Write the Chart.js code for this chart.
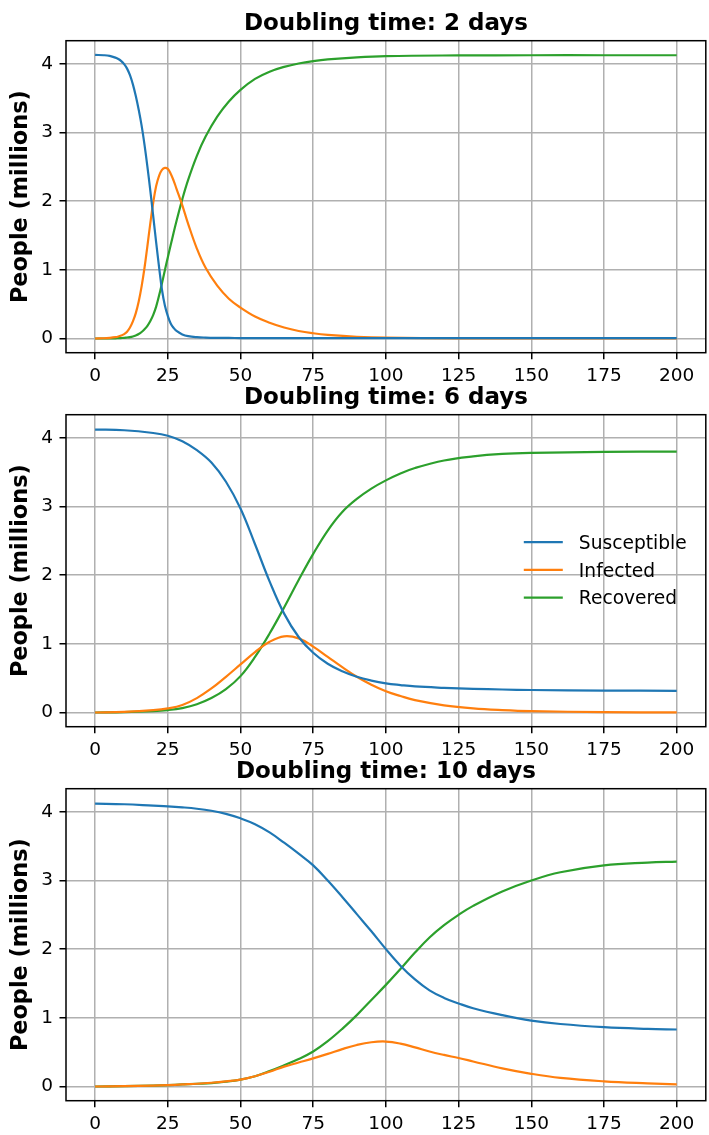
<!DOCTYPE html>
<html lang="en">
<head>
<meta charset="UTF-8">
<title>Doubling time</title>
<script src="https://cdn.jsdelivr.net/npm/chart.js@4.4.0/dist/chart.umd.min.js"></script>
<style>
  body { margin: 0; background: #fff; }
  canvas { position: absolute; left: 0; }
</style>
</head>
<body>
<canvas id="c1" width="709" height="400" style="top:0px"></canvas>
<canvas id="c2" width="709" height="400" style="top:374px"></canvas>
<canvas id="c3" width="709" height="387" style="top:748px"></canvas>

<script>
// noms des courbes et titres
const seriesNames = ['Susceptible', 'Infected', 'Recovered'];
const colors = ['#1f77b4', '#ff7f0e', '#2ca02c'];
const titles = ['Doubling time: 2 days', 'Doubling time: 6 days', 'Doubling time: 10 days'];
const yLabel = 'People (millions)';

// doubling time 2 days
const days1 = [0, 3, 5, 7, 8, 9, 10, 11, 12, 13, 14, 15, 16, 17, 18, 19, 20, 21, 22, 23, 24, 25, 26, 27, 28, 30, 32, 35, 38, 42, 46, 50, 55, 60, 65, 70, 75, 80, 90, 100, 125, 150, 175, 200];
const susceptible1 = [4.13, 4.125, 4.115, 4.09, 4.07, 4.04, 3.995, 3.93, 3.835, 3.70, 3.53, 3.33, 3.10, 2.82, 2.50, 2.15, 1.78, 1.40, 1.04, 0.71, 0.48, 0.33, 0.22, 0.155, 0.11, 0.06, 0.035, 0.02, 0.014, 0.01, 0.008, 0.007, 0.006, 0.005, 0.005, 0.005, 0.005, 0.005, 0.005, 0.005, 0.005, 0.005, 0.005, 0.005];
const infected1 = [0, 0.004, 0.01, 0.02, 0.03, 0.045, 0.065, 0.10, 0.16, 0.25, 0.37, 0.54, 0.76, 1.03, 1.35, 1.68, 1.98, 2.22, 2.37, 2.455, 2.485, 2.47, 2.40, 2.30, 2.18, 1.94, 1.67, 1.31, 1.03, 0.77, 0.58, 0.45, 0.32, 0.23, 0.16, 0.11, 0.077, 0.054, 0.026, 0.012, 0.002, 0.0005, 0, 0];
const recovered1 = [0, 0, 0.001, 0.003, 0.005, 0.007, 0.01, 0.015, 0.02, 0.03, 0.045, 0.065, 0.095, 0.135, 0.185, 0.255, 0.345, 0.465, 0.625, 0.805, 0.995, 1.18, 1.36, 1.54, 1.71, 2.03, 2.31, 2.66, 2.94, 3.23, 3.45, 3.62, 3.78, 3.885, 3.955, 4.005, 4.04, 4.065, 4.095, 4.112, 4.122, 4.125, 4.125, 4.125];

// doubling time 6 days
const days2 = [0, 10, 20, 25, 30, 35, 40, 45, 50, 55, 60, 65, 70, 75, 80, 85, 90, 95, 100, 105, 110, 120, 130, 140, 150, 175, 200];
const susceptible2 = [4.12, 4.11, 4.07, 4.03, 3.95, 3.82, 3.64, 3.36, 2.97, 2.45, 1.91, 1.44, 1.10, 0.87, 0.71, 0.60, 0.52, 0.465, 0.425, 0.40, 0.38, 0.36, 0.345, 0.335, 0.328, 0.32, 0.316];
const infected2 = [0, 0.01, 0.035, 0.06, 0.11, 0.21, 0.35, 0.52, 0.70, 0.88, 1.03, 1.11, 1.08, 0.96, 0.81, 0.66, 0.52, 0.405, 0.31, 0.24, 0.18, 0.105, 0.06, 0.035, 0.02, 0.006, 0.002];
const recovered2 = [0, 0.005, 0.02, 0.035, 0.065, 0.12, 0.21, 0.34, 0.53, 0.81, 1.15, 1.53, 1.93, 2.31, 2.65, 2.92, 3.11, 3.26, 3.38, 3.48, 3.56, 3.67, 3.73, 3.765, 3.78, 3.795, 3.80];

// doubling time 10 days
const days3 = [0, 10, 20, 25, 30, 35, 40, 45, 50, 55, 60, 65, 70, 75, 80, 85, 90, 95, 100, 105, 110, 115, 120, 125, 130, 140, 150, 160, 175, 190, 200];
const susceptible3 = [4.12, 4.11, 4.09, 4.08, 4.065, 4.045, 4.015, 3.97, 3.905, 3.82, 3.70, 3.55, 3.39, 3.22, 3.00, 2.76, 2.51, 2.26, 2.0, 1.76, 1.56, 1.40, 1.29, 1.21, 1.14, 1.04, 0.96, 0.91, 0.865, 0.84, 0.83];
const infected3 = [0, 0.005, 0.013, 0.02, 0.03, 0.04, 0.055, 0.075, 0.10, 0.15, 0.215, 0.29, 0.35, 0.41, 0.475, 0.545, 0.605, 0.645, 0.655, 0.625, 0.57, 0.51, 0.46, 0.415, 0.365, 0.265, 0.185, 0.125, 0.075, 0.045, 0.03];
const recovered3 = [0, 0.005, 0.013, 0.02, 0.03, 0.04, 0.05, 0.07, 0.10, 0.15, 0.225, 0.31, 0.40, 0.51, 0.66, 0.84, 1.04, 1.26, 1.48, 1.71, 1.95, 2.17, 2.35, 2.50, 2.63, 2.84, 3.00, 3.12, 3.22, 3.26, 3.275];

const FONT = "'DejaVu Sans', sans-serif";

// cadre + titre + label y (comme matplotlib)
const framePlugin = {
    id: 'frame',
    afterDraw(chart, args, opts) {
        const ctx = chart.ctx;
        const a = chart.chartArea;
        ctx.save();
        ctx.strokeStyle = '#000';
        ctx.lineWidth = 1.5;
        ctx.strokeRect(a.left, a.top, a.right - a.left, a.bottom - a.top);
        ctx.fillStyle = '#000';
        ctx.font = "bold 23px " + FONT;
        ctx.textAlign = 'center';
        ctx.textBaseline = 'alphabetic';
        ctx.fillText(opts.title, (a.left + a.right) / 2, a.top - 11.2);
        ctx.font = "bold 22.4px " + FONT;
        ctx.translate(27.3, (a.top + a.bottom) / 2);
        ctx.rotate(-Math.PI / 2);
        ctx.fillText(yLabel, 0, 0);
        ctx.restore();
    }
};

// legende sans cadre, dans la zone du graphique
const legendPlugin = {
    id: 'legendInside',
    afterDraw(chart, args, opts) {
        if (!opts.show) return;
        const ctx = chart.ctx;
        const a = chart.chartArea;
        ctx.save();
        ctx.font = "18.67px " + FONT;
        ctx.textAlign = 'left';
        ctx.textBaseline = 'alphabetic';
        chart.data.datasets.forEach((ds, k) => {
            let y = a.top + 127.4 + k * 27.8;
            ctx.strokeStyle = ds.borderColor;
            ctx.lineWidth = 2.2;
            ctx.beginPath();
            ctx.moveTo(a.right - 182, y);
            ctx.lineTo(a.right - 143, y);
            ctx.stroke();
            ctx.fillStyle = '#000';
            ctx.fillText(ds.label, a.right - 127, y + 6.6);
        });
        ctx.restore();
    }
};

function buildChart(id, title, days, s, i, r, showLegend) {
    let canvas = document.getElementById(id);
    let pts = (ys) => days.map((d, k) => ({x: d, y: ys[k]}));
    let values = [s, i, r];
    let tickFont = {family: FONT, size: 18.5};

    return new Chart(canvas.getContext('2d'), {
        type: 'line',
        data: {
            datasets: values.map((v, k) => ({
                label: seriesNames[k],
                data: pts(v),
                borderColor: colors[k],
                backgroundColor: colors[k],
                fill: false
            }))
        },
        options: {
            responsive: false,
            animation: false,
            layout: {padding: {top: 40.7, right: 3.2, left: 0, bottom: 0}},
            elements: {
                point: {radius: 0},
                line: {borderWidth: 2.2, tension: 0.4}
            },
            plugins: {
                legend: {display: false},
                tooltip: {enabled: false},
                frame: {title: title},
                legendInside: {show: showLegend}
            },
            scales: {
                x: {
                    type: 'linear',
                    min: -10,
                    max: 210,
                    ticks: {stepSize: 25, includeBounds: false, font: tickFont, color: '#000', padding: 5.5, maxRotation: 0, autoSkip: false},
                    grid: {color: '#b0b0b0', lineWidth: 1.5, tickLength: 6.5, tickColor: '#000', tickWidth: 1.5},
                    border: {display: false},
                    afterFit: (axis) => { axis.height = canvas.height - 352.7; }
                },
                y: {
                    type: 'linear',
                    min: -0.2065,
                    max: 4.3365,
                    ticks: {stepSize: 1, includeBounds: false, font: tickFont, color: '#000', padding: 6.5},
                    grid: {color: '#b0b0b0', lineWidth: 1.5, tickLength: 6.5, tickColor: '#000', tickWidth: 1.5},
                    border: {display: false},
                    afterFit: (axis) => { axis.width = 66; }
                }
            }
        },
        plugins: [framePlugin, legendPlugin]
    });
}

buildChart('c1', titles[0], days1, susceptible1, infected1, recovered1, false);
buildChart('c2', titles[1], days2, susceptible2, infected2, recovered2, true);
buildChart('c3', titles[2], days3, susceptible3, infected3, recovered3, false);
</script>
</body>
</html>
